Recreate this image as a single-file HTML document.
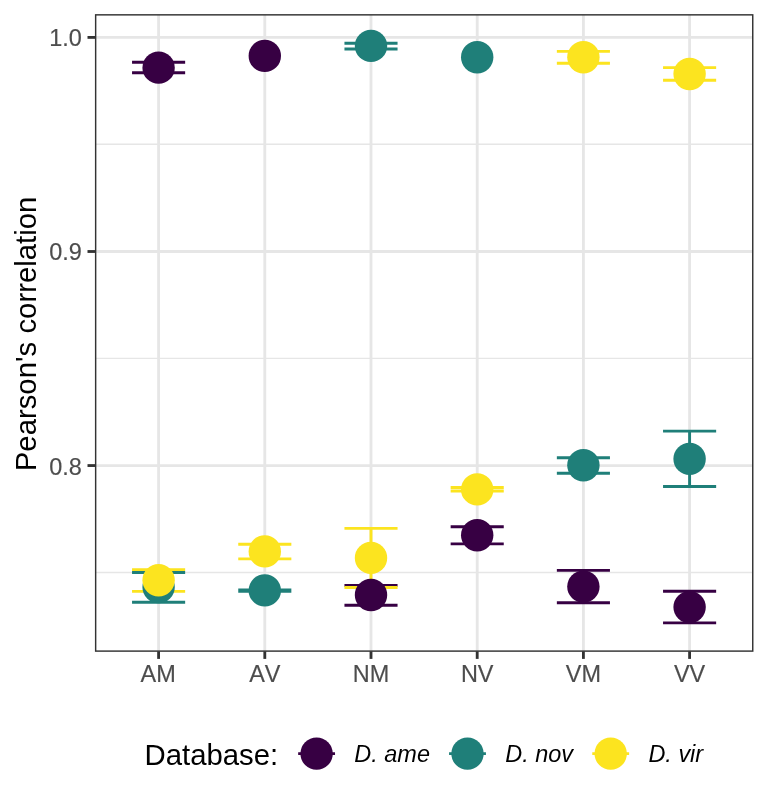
<!DOCTYPE html>
<html lang="en"><head><meta charset="utf-8"><title>Pearson's correlation by database</title>
<style>html,body{margin:0;padding:0;background:#fff}svg{display:block}text{font-family:"Liberation Sans",Arial,Helvetica,sans-serif;font-kerning:none;font-variant-ligatures:none}</style></head><body>
<svg width="768" height="806" viewBox="0 0 768 806">
<rect width="768" height="806" fill="#fff"/>
<g stroke="#E6E6E6" fill="none">
<line x1="95.65" x2="752.75" y1="144.25" y2="144.25" stroke-width="1.42"/>
<line x1="95.65" x2="752.75" y1="358.35" y2="358.35" stroke-width="1.42"/>
<line x1="95.65" x2="752.75" y1="572.45" y2="572.45" stroke-width="1.42"/>
<line x1="95.65" x2="752.75" y1="37.4" y2="37.4" stroke-width="2.84"/>
<line x1="95.65" x2="752.75" y1="251.5" y2="251.5" stroke-width="2.84"/>
<line x1="95.65" x2="752.75" y1="465.55" y2="465.55" stroke-width="2.84"/>
<line x1="158.6" x2="158.6" y1="14.85" y2="651.1" stroke-width="2.84"/>
<line x1="264.8" x2="264.8" y1="14.85" y2="651.1" stroke-width="2.84"/>
<line x1="371.0" x2="371.0" y1="14.85" y2="651.1" stroke-width="2.84"/>
<line x1="477.2" x2="477.2" y1="14.85" y2="651.1" stroke-width="2.84"/>
<line x1="583.4" x2="583.4" y1="14.85" y2="651.1" stroke-width="2.84"/>
<line x1="689.6" x2="689.6" y1="14.85" y2="651.1" stroke-width="2.84"/>
</g>
<g fill="none" stroke-width="2.9">
<path stroke="#370043" d="M132.05 62.3H185.15M158.60 62.3V72.8M132.05 72.8H185.15"/>
<path stroke="#370043" d="M344.45 585.35H397.55M371.00 585.35V605.3M344.45 605.3H397.55"/>
<path stroke="#370043" d="M450.65 526.75H503.75M477.20 526.75V543.9M450.65 543.9H503.75"/>
<path stroke="#370043" d="M556.85 570.4H609.95M583.40 570.4V602.75M556.85 602.75H609.95"/>
<path stroke="#370043" d="M663.05 591.25H716.15M689.60 591.25V622.9M663.05 622.9H716.15"/>
<path stroke="#1F7F79" d="M132.05 572.5H185.15M158.60 572.5V602.3M132.05 602.3H185.15"/>
<path stroke="#1F7F79" d="M238.25 590.0H291.35M264.80 590.0V591.2M238.25 591.2H291.35"/>
<path stroke="#1F7F79" d="M344.45 43.2H397.55M371.00 43.2V49.0M344.45 49.0H397.55"/>
<path stroke="#1F7F79" d="M556.85 457.7H609.95M583.40 457.7V473.2M556.85 473.2H609.95"/>
<path stroke="#1F7F79" d="M663.05 431.1H716.15M689.60 431.1V486.5M663.05 486.5H716.15"/>
<path stroke="#FCE41F" d="M132.05 569.6H185.15M158.60 569.6V591.4M132.05 591.4H185.15"/>
<path stroke="#FCE41F" d="M238.25 544.3H291.35M264.80 544.3V558.9M238.25 558.9H291.35"/>
<path stroke="#FCE41F" d="M344.45 528.4H397.55M371.00 528.4V587.45M344.45 587.45H397.55"/>
<path stroke="#FCE41F" d="M450.65 487.5H503.75M477.20 487.5V491.0M450.65 491.0H503.75"/>
<path stroke="#FCE41F" d="M556.85 51.4H609.95M583.40 51.4V63.3M556.85 63.3H609.95"/>
<path stroke="#FCE41F" d="M663.05 67.6H716.15M689.60 67.6V80.3M663.05 80.3H716.15"/>
</g>
<g>
<circle cx="158.6" cy="67.65" r="16.2" fill="#370043"/>
<circle cx="264.8" cy="55.9" r="16.2" fill="#370043"/>
<circle cx="371.0" cy="595.0" r="16.2" fill="#370043"/>
<circle cx="477.2" cy="535.3" r="16.2" fill="#370043"/>
<circle cx="583.4" cy="586.6" r="16.2" fill="#370043"/>
<circle cx="689.6" cy="607.1" r="16.2" fill="#370043"/>
<circle cx="158.6" cy="587.1" r="16.2" fill="#1F7F79"/>
<circle cx="264.8" cy="590.4" r="16.2" fill="#1F7F79"/>
<circle cx="371.0" cy="45.9" r="16.2" fill="#1F7F79"/>
<circle cx="477.2" cy="57.2" r="16.2" fill="#1F7F79"/>
<circle cx="583.4" cy="465.2" r="16.2" fill="#1F7F79"/>
<circle cx="689.6" cy="458.9" r="16.2" fill="#1F7F79"/>
<circle cx="158.6" cy="580.3" r="16.2" fill="#FCE41F"/>
<circle cx="264.8" cy="551.4" r="16.2" fill="#FCE41F"/>
<circle cx="371.0" cy="557.9" r="16.2" fill="#FCE41F"/>
<circle cx="477.2" cy="489.4" r="16.2" fill="#FCE41F"/>
<circle cx="583.4" cy="57.25" r="16.2" fill="#FCE41F"/>
<circle cx="689.6" cy="74.0" r="16.2" fill="#FCE41F"/>
</g>
<rect x="95.65" y="14.85" width="657.10" height="636.25" fill="none" stroke="#333333" stroke-width="1.45"/>
<g stroke="#333333" stroke-width="2.84">
<line x1="87.5" x2="95.3" y1="37.4" y2="37.4"/>
<line x1="87.5" x2="95.3" y1="251.5" y2="251.5"/>
<line x1="87.5" x2="95.3" y1="465.55" y2="465.55"/>
<line x1="158.6" x2="158.6" y1="651.3" y2="658.9"/>
<line x1="264.8" x2="264.8" y1="651.3" y2="658.9"/>
<line x1="371.0" x2="371.0" y1="651.3" y2="658.9"/>
<line x1="477.2" x2="477.2" y1="651.3" y2="658.9"/>
<line x1="583.4" x2="583.4" y1="651.3" y2="658.9"/>
<line x1="689.6" x2="689.6" y1="651.3" y2="658.9"/>
</g>
<g fill="#4D4D4D" stroke="#4D4D4D" stroke-width="0.15" font-size="23.47px">
<text x="81.8" y="46.05" text-anchor="end">1.0</text>
<text x="81.8" y="260.25" text-anchor="end">0.9</text>
<text x="81.8" y="475.0" text-anchor="end">0.8</text>
<text x="158.2" y="681.8" text-anchor="middle">AM</text>
<text x="264.8" y="681.8" text-anchor="middle">AV</text>
<text x="371.0" y="681.8" text-anchor="middle">NM</text>
<text x="477.2" y="681.8" text-anchor="middle">NV</text>
<text x="583.4" y="681.8" text-anchor="middle">VM</text>
<text x="689.6" y="681.8" text-anchor="middle">VV</text>
</g>
<text transform="translate(35.75 333.95) rotate(-90)" text-anchor="middle" font-size="29.33px" fill="#000">Pearson's correlation</text>
<text x="144.5" y="764.6" font-size="29.33px" fill="#000">Database:</text>
<line x1="298.17" x2="335.03" y1="753.6" y2="753.6" stroke="#370043" stroke-width="2.9"/>
<circle cx="316.6" cy="753.6" r="16.2" fill="#370043"/>
<text x="354.3" y="762.1" font-size="23.47px" font-style="italic" fill="#000">D. ame</text>
<line x1="449.07" x2="485.93" y1="753.6" y2="753.6" stroke="#1F7F79" stroke-width="2.9"/>
<circle cx="467.5" cy="753.6" r="16.2" fill="#1F7F79"/>
<text x="505.2" y="762.1" font-size="23.47px" font-style="italic" fill="#000">D. nov</text>
<line x1="592.27" x2="629.13" y1="753.6" y2="753.6" stroke="#FCE41F" stroke-width="2.9"/>
<circle cx="610.7" cy="753.6" r="16.2" fill="#FCE41F"/>
<text x="648.4" y="762.1" font-size="23.47px" font-style="italic" fill="#000">D. vir</text>
</svg></body></html>
